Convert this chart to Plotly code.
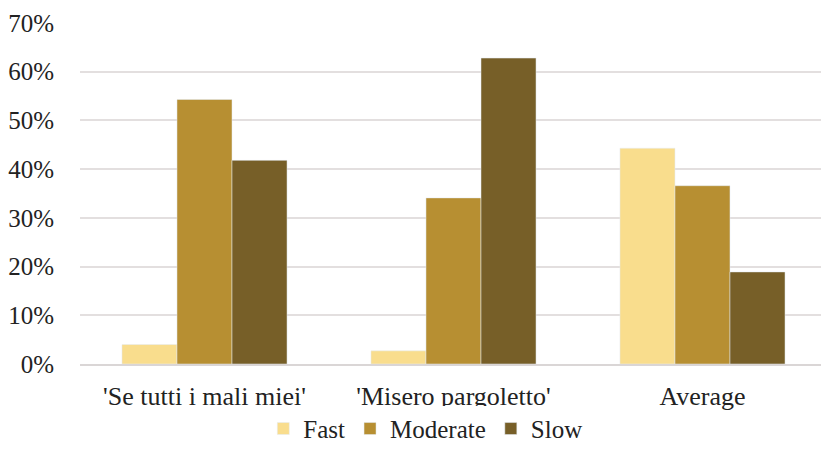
import plotly.graph_objects as go

# Tempo classification shares per aria
categories = ["'Se tutti i mali miei'", "'Misero pargoletto'", "Average"]
fast = [0.040, 0.027, 0.443]
moderate = [0.543, 0.341, 0.366]
slow = [0.418, 0.628, 0.189]

series = [
    ("Fast", fast, "#F9DD8D"),
    ("Moderate", moderate, "#B78F32"),
    ("Slow", slow, "#775F28"),
]

fig = go.Figure()
for name, vals, color in series:
    fig.add_trace(go.Bar(name=name, x=categories, y=vals, marker_color=color))

SERIF = "Liberation Serif"
INK = "#222222"

fig.update_layout(
    width=821, height=452,
    margin=dict(l=80, r=0, t=23, b=79),
    paper_bgcolor="white", plot_bgcolor="white",
    barmode="group", bargap=0.337, bargroupgap=0,
    font=dict(family=SERIF, size=25, color=INK),
    legend=dict(
        orientation="h", x=0.466, xanchor="center",
        y=-0.19, yanchor="middle",
        font=dict(family=SERIF, size=25, color=INK),
        itemwidth=30,
    ),
)

fig.update_xaxes(
    range=[-0.5, 2.476],
    showgrid=False, showline=True, linecolor="#dad6d6", linewidth=1.5,
    zeroline=False, ticks="outside", ticklen=8, tickcolor="rgba(0,0,0,0)",
    tickfont=dict(family=SERIF, size=26, color=INK),
)
fig.update_yaxes(
    range=[0, 0.7], tickvals=[0, 0.1, 0.2, 0.3, 0.4, 0.5, 0.6, 0.7],
    tickformat=".0%", showgrid=True, gridcolor="#e3dfdf", gridwidth=1.5,
    zeroline=False, showline=False,
    ticks="outside", ticklen=20, tickcolor="rgba(0,0,0,0)",
    tickfont=dict(family=SERIF, size=25, color=INK),
)

fig.write_html("out.html")
